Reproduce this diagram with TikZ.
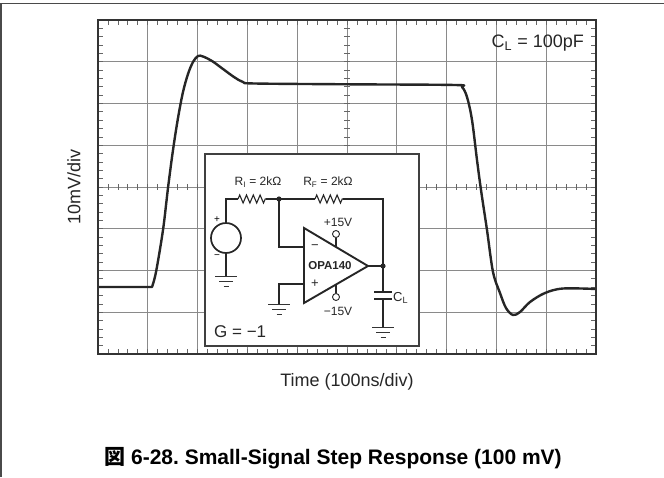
\documentclass[tikz,border=0pt]{standalone}
\usepackage{fontspec}
\setmainfont{Liberation Sans}
\newfontfamily\cjk{Noto Sans CJK JP}
\usetikzlibrary{calc}
\usetikzlibrary{positioning}
\usetikzlibrary{decorations.pathmorphing}
\usepackage{xcolor}
\frenchspacing

\definecolor{gridgray}{HTML}{8A8A8A}
\definecolor{framegray}{HTML}{4A4A4A}
\definecolor{trace}{HTML}{262626}

\tikzset{gnd/.pic={
  \draw[line width=1pt,black!80] (-11,0) -- (11,0) (-7,5.3) -- (7,5.3) (-2.5,10.6) -- (2.5,10.6);
}}

\begin{document}
\begin{tikzpicture}[x=1pt,y=-1pt,
    gridline/.style={gridgray,line width=0.9pt},
    tick/.style={black!60,line width=0.8pt},
    scopeframe/.style={draw=black!80,line width=2.4pt},
    wave/.style={trace,line width=2.4pt,line join=round},
    wire/.style={black!85,line width=1.1pt},
    resistor/.style={decorate,decoration={zigzag,amplitude=4,segment length=6.8}},
    pin/.style={draw,circle,inner sep=0pt,minimum size=7pt,line width=0.9pt,black!85},
    lbl/.style={inner sep=0pt,font=\fontsize{18}{20}\selectfont,black!85},
    small/.style={inner sep=0pt,font=\fontsize{12}{13}\selectfont,black!85}]
  \useasboundingbox (0,0) rectangle (664,477);
  \coordinate (page-sw) at (1,477);
  \coordinate (page-nw) at (1,3.5);
  \coordinate (page-ne) at (664,3.5);
  \draw[framegray,line width=1.5pt] (page-sw) -- (page-nw) -- (page-ne);

  % scope screen
  \coordinate (scope-nw) at (98,20);
  \coordinate (scope-se) at (596,354);
  \foreach \i in {1,...,9}
    \draw[gridline] ({98+\i*49.8},20) -- ({98+\i*49.8},354);
  \foreach \j in {1,...,7}
    \draw[gridline] (98,{20+\j*41.75}) -- (596,{20+\j*41.75});
  \foreach \k in {1,...,49} {
    \draw[tick] ({98+\k*9.96},20) -- ++(0,5);
    \draw[tick] ({98+\k*9.96},354) -- ++(0,-5);
    \draw[tick] ({98+\k*9.96},184) -- ++(0,6);
  }
  \foreach \k in {1,...,39} {
    \draw[tick] (98,{20+\k*8.35}) -- ++(5,0);
    \draw[tick] (596,{20+\k*8.35}) -- ++(-5,0);
    \draw[tick] (344,{20+\k*8.35}) -- ++(6,0);
  }

  % inset circuit
  \draw[draw=black!75,fill=white,line width=1.2pt] (205,154) rectangle (419,346);
  \node[draw,circle,minimum size=30pt,inner sep=0pt,line width=1.7pt,black!85] (src) at (226,238) {};
  \node[inner sep=0pt,font=\fontsize{10}{10}\selectfont] at (217,220) {+};
  \node[inner sep=0pt,font=\fontsize{10}{10}\selectfont] at (217,257) {−};
  \coordinate (ri-a) at (238,199);
  \coordinate (ri-b) at (266,199);
  \coordinate (sum) at (279,199);
  \coordinate (rf-a) at (315,199);
  \coordinate (rf-b) at (343,199);
  \coordinate (out) at (383,266);
  \coordinate (optop) at (304,228);
  \coordinate (optip) at (368,266);
  \coordinate (opbot) at (304,303);
  \coordinate (inm) at (304,247);
  \coordinate (inp) at (304,284);
  \coordinate (gnd-src) at (226,276);
  \coordinate (gnd-inp) at (279,304);
  \coordinate (cap-a) at (383,292);
  \coordinate (cap-b) at (383,299);
  \coordinate (gnd-cap) at (383,327);
  \draw[wire] (src.north) |- (ri-a);
  \draw[wire,resistor] (ri-a) -- (ri-b);
  \draw[wire] (ri-b) -- (rf-a);
  \draw[wire,resistor] (rf-a) -- (rf-b);
  \draw[wire] (rf-b) -| (out);
  \draw[wire] (sum) |- (inm);
  \draw[wire] (inp) -| (gnd-inp);
  \draw[wire] (src.south) -- (gnd-src);
  \draw[wire] (optip) -- (out) -- (cap-a);
  \draw[wire] (cap-b) -- (gnd-cap);
  \draw[black!85,line width=1.8pt] ($(cap-a)+(-9,0)$) -- ($(cap-a)+(9,0)$);
  \draw[black!85,line width=1.8pt] ($(cap-b)+(-9,0)$) -- ($(cap-b)+(9,0)$);
  \draw[black!85,line width=1.9pt,line join=miter] (optop) -- (optip) -- (opbot) -- cycle;
  \fill[black!85] (sum) circle (2.6);
  \fill[black!85] (out) circle (2.6);
  \pic at (gnd-src) {gnd};
  \pic at (gnd-inp) {gnd};
  \pic at (gnd-cap) {gnd};
  \node[pin] (vpos) at (336,234) {};
  \node[pin] (vneg) at (336,297) {};
  \coordinate (vpos-in) at (336,247);
  \coordinate (vneg-in) at (336,285);
  \draw[wire] (vpos) -- (vpos-in);
  \draw[wire] (vneg) -- (vneg-in);
  \node[small] at (338,222) {+15V};
  \node[small] at (338,311) {−15V};
  \node[small,font=\fontsize{13}{13}\selectfont] at (315,247) {−};
  \node[small,font=\fontsize{13}{13}\selectfont] at (315,284) {+};
  \node[small,font=\fontsize{11.5}{12}\selectfont\bfseries] at (330,266) {OPA140};
  \node[small] at (258,182) {R\textsubscript{I} = 2kΩ};
  \node[small] at (328,182) {R\textsubscript{F} = 2kΩ};
  \node[small,font=\fontsize{13}{13}\selectfont,anchor=west] at (393,298) {C\textsubscript{L}};
  \node[lbl,font=\fontsize{17}{18}\selectfont,anchor=west] at (214,332) {G = −1};

  % step response trace
  \draw[wave] (98,287) -- (152,287) -- plot[smooth,tension=0.55] coordinates {
    (152,287) (156,272) (163,230) (168,188) (173,150) (178,118) (183,92)
    (188,74) (193,62) (198,56) (203,56.5) (212,61) (223,69) (234,77)
    (243,82) (255,83.5) (350,84.3) (455,85) (462,87) (467,97) (472,120)
    (477,160) (481,190) (487,230) (493,272) (500,293) (506,308) (513,315)
    (520,312) (530,302) (545,293) (563,288.5) (596,289)};
  \draw[scopeframe] (scope-nw) rectangle (scope-se);

  % labels
  \node[lbl,anchor=east] at (584,43) {C\textsubscript{L} = 100pF};
  \node[lbl,rotate=90] at (74,187) {10mV/div};
  \node[lbl] at (347,382) {Time (100ns/div)};
  \node[inner sep=0pt,font=\fontsize{21}{24}\selectfont\bfseries] at (333,458)
    {{\cjk 図} 6-28. Small-Signal Step Response (100 mV)};
\end{tikzpicture}
\end{document}
